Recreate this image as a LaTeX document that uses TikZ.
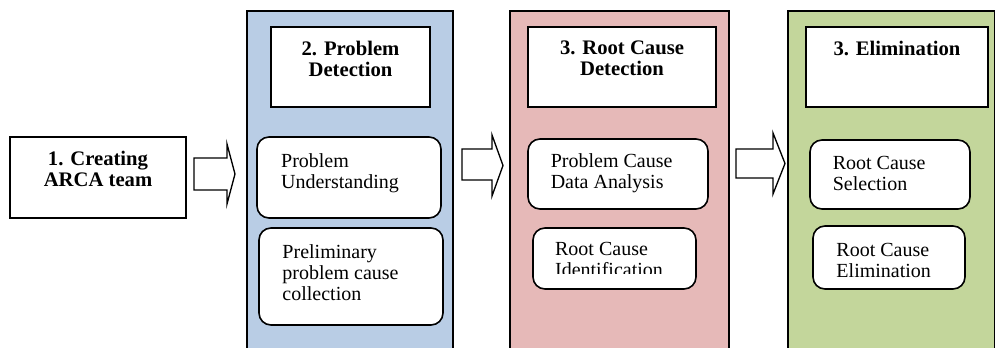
\documentclass[tikz,border=0pt]{standalone}
\usepackage{fontspec}
\setmainfont{Liberation Serif}
\usetikzlibrary{positioning}
\definecolor{pdblue}{HTML}{B9CDE5}
\definecolor{rcdred}{HTML}{E6B9B8}
\definecolor{elgreen}{HTML}{C3D69B}
\tikzset{
  colbox/.style={draw=black,line width=0.9pt},
  titlebox/.style={draw,fill=white,line width=1.2pt,inner sep=0pt},
  stepbox/.style={draw,fill=white,line width=1.2pt,rounded corners=9pt,inner sep=0pt},
  titletext/.style={font=\fontsize{15.5}{15.75}\selectfont\bfseries,align=center,inner sep=0pt},
  steptext/.style={font=\fontsize{15}{15.75}\selectfont,align=left,inner sep=0pt},
  blockarrow/.style={draw,fill=white,line width=1pt,line join=miter}
}
\begin{document}
\begin{tikzpicture}[x=0.75pt,y=-0.75pt]
\useasboundingbox (0,0) rectangle (995,348);
\clip (0,0) rectangle (995,348);

% phase columns
\draw[colbox,fill=pdblue] (247,11) rectangle (453,360);
\draw[colbox,fill=rcdred] (510,11) rectangle (729,360);
\draw[colbox,fill=elgreen] (788,11) rectangle (994.5,360);

% step 1
\node[titlebox,minimum width=132pt,minimum height=60.75pt] (arca) at (98,177.5) {};
\node[titletext,below=11pt of arca.north] (arcatxt) {1. Creating\\ARCA team};

% titles
\node[titlebox,minimum width=119.25pt,minimum height=60pt] (pd) at (350.5,67) {};
\node[titletext,below=11pt of pd.north] (pdtxt) {2. Problem\\Detection};
\node[titlebox,minimum width=141pt,minimum height=60pt] (rcd) at (622,67) {};
\node[titletext,below=11pt of rcd.north] (rcdtxt) {3. Root Cause\\Detection};
\node[titlebox,minimum width=136.5pt,minimum height=60pt] (el) at (897,67) {};
\node[titletext,below=11pt of el.north] (eltxt) {3. Elimination};

% activities
\node[stepbox,minimum width=138pt,minimum height=60.75pt] (pu) at (349,177.5) {};
\node[steptext,below right=13pt and 18.5pt of pu.north west] (putxt) {Problem\\Understanding};
\node[stepbox,minimum width=138pt,minimum height=72.75pt] (ppc) at (351,276.5) {};
\node[steptext,below right=12.5pt and 18pt of ppc.north west] (ppctxt) {Preliminary\\problem cause\\collection};

\node[stepbox,minimum width=135pt,minimum height=52.5pt] (pcda) at (618,174) {};
\node[steptext,below right=11.25pt and 17.5pt of pcda.north west] (pcdatxt) {Problem Cause\\Data Analysis};
\node[stepbox,minimum width=122.25pt,minimum height=45.75pt] (rci) at (614.5,258.5) {};
\begin{scope}
\clip (533,228) rectangle (696,273.8);
\node[steptext,below right=11.25pt and 17pt of rci.north west] (rcitxt) {Root Cause\\Identification};
\end{scope}

\node[stepbox,minimum width=120pt,minimum height=51.75pt] (rcs) at (890,174.5) {};
\node[steptext,below right=12.5pt and 17.5pt of rcs.north west] (rcstxt) {Root Cause\\Selection};
\node[stepbox,minimum width=114pt,minimum height=47.25pt] (rce) at (889,257.5) {};
\node[steptext,below right=13.5pt and 18pt of rce.north west] (rcetxt) {Root Cause\\Elimination};

% block arrows
\draw[blockarrow] (194,158) -- (227,158) -- (227,144) -- (235,174) -- (227,204) -- (227,190) -- (194,190) -- cycle;
\draw[blockarrow] (462,149) -- (492,149) -- (492,135) -- (503,165.5) -- (492,196) -- (492,180) -- (462,180) -- cycle;
\draw[blockarrow] (736,149) -- (773,149) -- (773,133) -- (785,163.5) -- (773,194) -- (773,178) -- (736,178) -- cycle;

\end{tikzpicture}
\end{document}
